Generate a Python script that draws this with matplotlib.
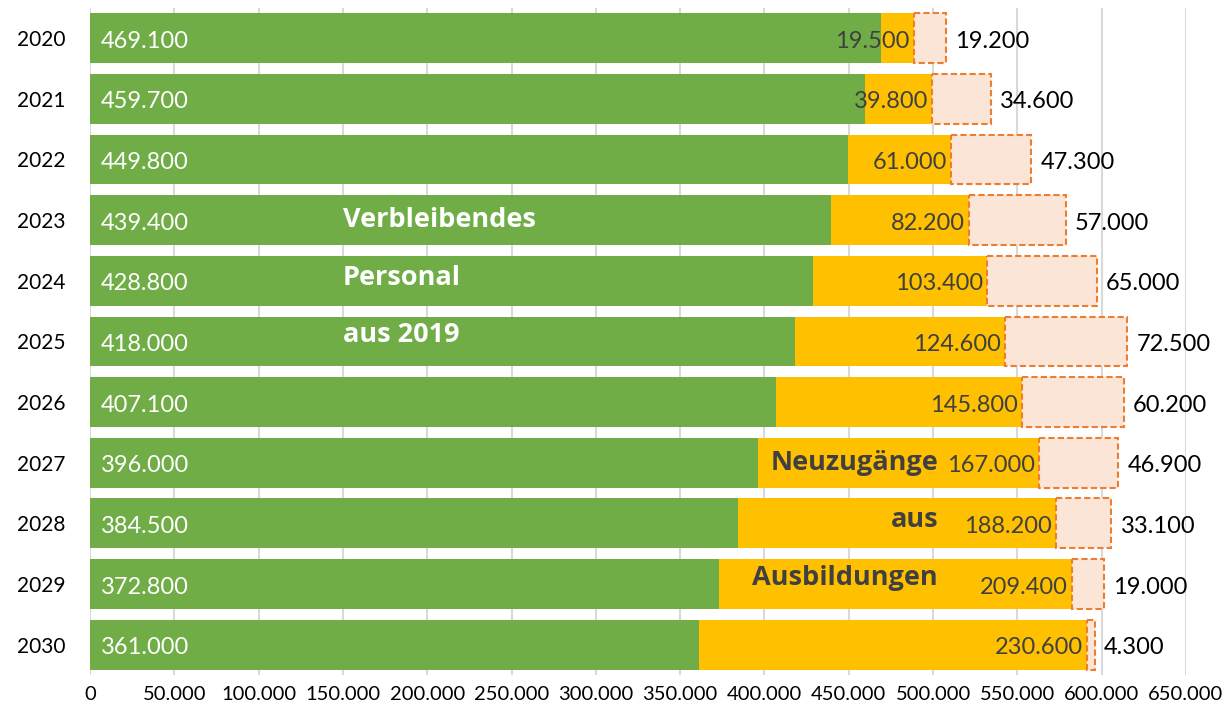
import matplotlib.pyplot as plt
from matplotlib.ticker import FuncFormatter

plt.rcParams['font.family'] = ['Lato', 'DejaVu Sans']

# Daten aus der Grafik
jahre = ['2020', '2021', '2022', '2023', '2024', '2025', '2026', '2027', '2028', '2029', '2030']
verbleibend = [469100, 459700, 449800, 439400, 428800, 418000, 407100, 396000, 384500, 372800, 361000]
neuzugaenge = [19500, 39800, 61000, 82200, 103400, 124600, 145800, 167000, 188200, 209400, 230600]
luecke = [19200, 34600, 47300, 57000, 65000, 72500, 60200, 46900, 33100, 19000, 4300]

GRUEN = '#70AD47'
GELB = '#FFC000'
PFIRSICH = '#FBE5D6'
ORANGE = '#ED7D31'
DUNKEL = '#404040'


def de_format(v):
    # deutsche Tausendertrennung mit Punkt
    return f"{int(v):,}".replace(',', '.')


fig = plt.figure(figsize=(12.22, 7.15), dpi=100)
ax = fig.add_axes([0.0737, 0.056, 0.8968, 0.933])

pos = list(range(len(jahre)))
h = 0.82

ax.barh(pos, verbleibend, height=h, color=GRUEN, zorder=2)
ax.barh(pos, neuzugaenge, left=verbleibend, height=h, color=GELB, zorder=2)
links = [a + b for a, b in zip(verbleibend, neuzugaenge)]
ax.barh(pos, luecke, left=links, height=h, color=PFIRSICH, edgecolor=ORANGE,
        linestyle=(0, (3, 1.5)), linewidth=1.5, zorder=2)

# Beschriftungen
for i in pos:
    y = i + 0.05
    ax.text(6500, y, de_format(verbleibend[i]), color='white', fontsize=17,
            va='center', ha='left', zorder=3)
    ax.text(links[i] - 2500, y, de_format(neuzugaenge[i]), color=DUNKEL, fontsize=17,
            va='center', ha='right', zorder=3)
    ende = links[i] + luecke[i]
    ax.text(ende + 5500, y, de_format(luecke[i]), color='black', fontsize=17,
            va='center', ha='left', zorder=3)

# Textblöcke im Diagramm
for txt, y in [('Verbleibendes', 3.0), ('Personal', 3.95), ('aus 2019', 4.9)]:
    ax.text(150000, y, txt, color='white', fontsize=19.5, fontweight='bold',
            family=['Open Sans', 'DejaVu Sans'], va='center', ha='left', zorder=3)
for txt, y in [('Neuzugänge', 7.0), ('aus', 7.95), ('Ausbildungen', 8.9)]:
    ax.text(503000, y, txt, color=DUNKEL, fontsize=19.5, fontweight='bold',
            family=['Open Sans', 'DejaVu Sans'], va='center', ha='right', zorder=3)

ax.set_xlim(0, 650000)
ax.set_ylim(10.5, -0.5)
ax.set_xticks(range(0, 650001, 50000))
ax.xaxis.set_major_formatter(FuncFormatter(lambda v, p: de_format(v)))
ax.set_yticks(pos)
ax.set_yticklabels(jahre)
ax.tick_params(axis='both', length=0)
ax.tick_params(axis='y', pad=18, labelsize=15)
ax.tick_params(axis='x', pad=8, labelsize=14.5)
ax.grid(axis='x', color='#D9D9D9', linewidth=1.5, zorder=0)
ax.set_axisbelow(True)
for s in ax.spines.values():
    s.set_visible(False)

fig.savefig('out.png', dpi=100)
